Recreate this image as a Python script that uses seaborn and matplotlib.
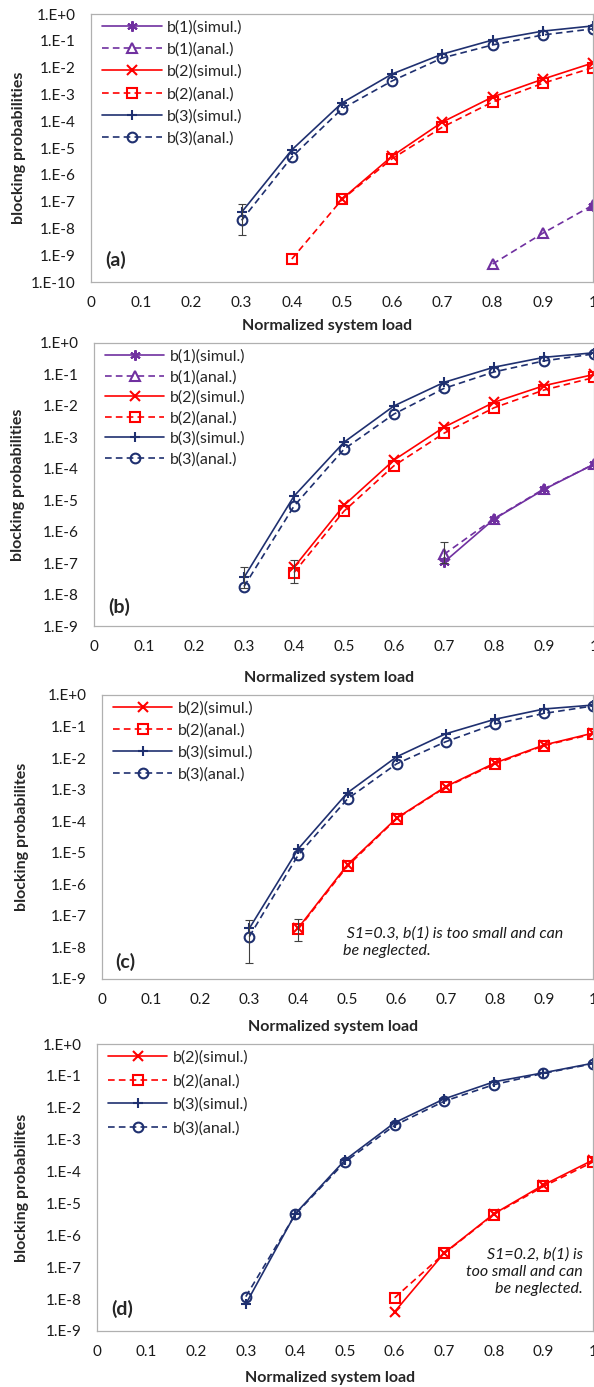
import math
import matplotlib
matplotlib.use('Agg')
import matplotlib.pyplot as plt
import matplotlib.ticker as mticker
import seaborn as sns
import pandas as pd

sns.set_style('white')
plt.rcParams['font.family'] = ['Lato', 'DejaVu Sans']

# ---- data ----
load = [0.3, 0.4, 0.5, 0.6, 0.7, 0.8, 0.9, 1.0]
xticks = [0, 0.1, 0.2, 0.3, 0.4, 0.5, 0.6, 0.7, 0.8, 0.9, 1]
xticklabels = ['0', '0.1', '0.2', '0.3', '0.4', '0.5', '0.6', '0.7', '0.8', '0.9', '1']

# panel (a)
a_b1_sim_x = [1.0]
a_b1_sim = [7.0e-8]
a_b1_ana_x = [0.8, 0.9, 1.0]
a_b1_ana = [4.7e-10, 6.6e-9, 7.4e-8]
a_b2_sim_x = [0.5, 0.6, 0.7, 0.8, 0.9, 1.0]
a_b2_sim = [1.25e-7, 5e-6, 9.3e-5, 8e-4, 3.7e-3, 1.5e-2]
a_b2_ana_x = [0.4, 0.5, 0.6, 0.7, 0.8, 0.9, 1.0]
a_b2_ana = [7.2e-10, 1.2e-7, 4e-6, 6e-5, 5.2e-4, 2.6e-3, 1.0e-2]
a_b3_sim = [4e-8, 8.5e-6, 4.8e-4, 5.8e-3, 3.2e-2, 0.107, 0.23, 0.36]
a_b3_ana = [2e-8, 4.6e-6, 2.9e-4, 3.2e-3, 2.3e-2, 0.07, 0.165, 0.28]
a_err = [(0.3, 5.6e-9, 8e-8)]

# panel (b)
b_b1_x = [0.7, 0.8, 0.9, 1.0]
b_b1_sim = [1.07e-7, 2.5e-6, 2.2e-5, 1.4e-4]
b_b1_ana = [1.9e-7, 2.6e-6, 2.3e-5, 1.4e-4]
b_b2_x = [0.4, 0.5, 0.6, 0.7, 0.8, 0.9, 1.0]
b_b2_sim = [7.4e-8, 6.9e-6, 1.9e-4, 2.1e-3, 1.3e-2, 4.4e-2, 0.1]
b_b2_ana = [5e-8, 4.5e-6, 1.25e-4, 1.35e-3, 8.7e-3, 3.2e-2, 0.08]
b_b3_sim = [3.5e-8, 1.35e-5, 7e-4, 1e-2, 5.6e-2, 0.17, 0.35, 0.49]
b_b3_ana = [1.8e-8, 6.5e-6, 4.2e-4, 5.5e-3, 3.6e-2, 0.12, 0.27, 0.45]
b_err = [(0.3, 1.6e-8, 7.4e-8), (0.4, 2.3e-8, 1.25e-7), (0.7, 1.0e-7, 4.6e-7)]

# panel (c)
c_b2_x = [0.4, 0.5, 0.6, 0.7, 0.8, 0.9, 1.0]
c_b2_sim = [4.2e-8, 4.2e-6, 1.25e-4, 1.25e-3, 7e-3, 2.6e-2, 6.2e-2]
c_b2_ana = [3.9e-8, 3.8e-6, 1.2e-4, 1.2e-3, 6.5e-3, 2.5e-2, 5.8e-2]
c_b3_sim = [4e-8, 1.35e-5, 8e-4, 1.1e-2, 5.9e-2, 0.17, 0.36, 0.48]
c_b3_ana = [2.2e-8, 8.7e-6, 5.1e-4, 6.6e-3, 3.3e-2, 0.12, 0.26, 0.45]
c_err = [(0.3, 3.3e-9, 7.6e-8), (0.4, 1.6e-8, 8e-8)]

# panel (d)
d_b2_x = [0.6, 0.7, 0.8, 0.9, 1.0]
d_b2_sim = [4e-9, 2.8e-7, 4.7e-6, 3.8e-5, 2.3e-4]
d_b2_ana = [1.1e-8, 2.7e-7, 4.5e-6, 3.4e-5, 2.0e-4]
d_b3_sim = [7e-9, 4.8e-6, 2.3e-4, 3.4e-3, 1.9e-2, 6.5e-2, 0.125, 0.25]
d_b3_ana = [1.2e-8, 4.6e-6, 2.0e-4, 2.8e-3, 1.6e-2, 5.3e-2, 0.12, 0.24]
d_err = []

PURPLE = '#7030A0'
RED = '#FF0000'
NAVY = '#1F3070'

# series style: key -> (label, color, marker, dashed)
styles = {
    'b1s': ('b(1)(simul.)', PURPLE, (6, 2, 0), False),
    'b1a': ('b(1)(anal.)', PURPLE, '^', True),
    'b2s': ('b(2)(simul.)', RED, 'x', False),
    'b2a': ('b(2)(anal.)', RED, 's', True),
    'b3s': ('b(3)(simul.)', NAVY, '+', False),
    'b3a': ('b(3)(anal.)', NAVY, 'o', True),
}

panels = [
    dict(tag='(a)', rect=(91, 14, 593, 282), ylim=(1e-10, 1), lab=(0.028, 0.082),
         ylabel='blocking probabilities', yl_x=19, xl_y=326, lspace=0.49,
         series=[('b1s', a_b1_sim_x, a_b1_sim), ('b1a', a_b1_ana_x, a_b1_ana),
                 ('b2s', a_b2_sim_x, a_b2_sim), ('b2a', a_b2_ana_x, a_b2_ana),
                 ('b3s', load, a_b3_sim), ('b3a', load, a_b3_ana)],
         err=a_err, note=None),
    dict(tag='(b)', rect=(94, 343, 594, 626), ylim=(1e-9, 1), lab=(0.028, 0.067),
         ylabel='blocking probabilities', yl_x=18, xl_y=678, lspace=0.39,
         series=[('b1s', b_b1_x, b_b1_sim), ('b1a', b_b1_x, b_b1_ana),
                 ('b2s', b_b2_x, b_b2_sim), ('b2a', b_b2_x, b_b2_ana),
                 ('b3s', load, b_b3_sim), ('b3a', load, b_b3_ana)],
         err=b_err, note=None),
    dict(tag='(c)', rect=(102, 695, 593, 979), ylim=(1e-9, 1), lab=(0.028, 0.06),
         ylabel='blocking probabilites', yl_x=22, xl_y=1027, lspace=0.47,
         series=[('b2s', c_b2_x, c_b2_sim), ('b2a', c_b2_x, c_b2_ana),
                 ('b3s', load, c_b3_sim), ('b3a', load, c_b3_ana)],
         err=c_err,
         note=(0.49, 0.13, ' S1=0.3, b(1) is too small and can\nbe neglected.', 'left')),
    dict(tag='(d)', rect=(97, 1044, 593, 1331), ylim=(1e-9, 1), lab=(0.028, 0.077),
         ylabel='blocking probabilites', yl_x=22, xl_y=1378, lspace=0.58,
         series=[('b2s', d_b2_x, d_b2_sim), ('b2a', d_b2_x, d_b2_ana),
                 ('b3s', load, d_b3_sim), ('b3a', load, d_b3_ana)],
         err=d_err,
         note=(0.98, 0.206, 'S1=0.2, b(1) is\ntoo small and can\nbe neglected.', 'right')),
]

W, H = 594, 1387
fig = plt.figure(figsize=(W / 100, H / 100), dpi=100)

for p in panels:
    l, t, r, b = p['rect']
    ax = fig.add_axes([l / W, 1 - b / H, (r - l) / W, (b - t) / H])
    for key, xs, ys in p['series']:
        lbl, col, mk, dashed = styles[key]
        df = pd.DataFrame({'x': xs, 'y': ys})
        open_mk = key.endswith('a')
        sns.lineplot(data=df, x='x', y='y', ax=ax, color=col, marker=mk,
                     markersize=7.5 if not open_mk else 7,
                     markeredgecolor=col, markeredgewidth=1.5,
                     markerfacecolor='none' if open_mk else col,
                     linestyle=(0, (4, 2.5)) if dashed else '-',
                     linewidth=1.2, label=lbl, legend=False)
    for x0, lo, hi in p['err']:
        mid = (lo * hi) ** 0.5
        ax.errorbar([x0], [mid], yerr=[[mid - lo], [hi - mid]], fmt='none',
                    ecolor='#404040', elinewidth=0.8, capsize=3, capthick=0.8)

    ax.set_yscale('log')
    ax.set_ylim(*p['ylim'])
    ax.set_xlim(0, 1)
    lo_e = int(round(math.log10(p['ylim'][0])))
    decs = list(range(lo_e, 1))
    ax.yaxis.set_major_locator(mticker.FixedLocator([10.0 ** e for e in decs]))
    ax.yaxis.set_major_formatter(mticker.FixedFormatter([f'1.E{e:+d}' for e in decs]))
    ax.yaxis.set_minor_locator(mticker.NullLocator())
    ax.set_xticks(xticks)
    ax.set_xticklabels(xticklabels)
    ax.tick_params(axis='both', length=0, labelsize=11, colors='#1a1a1a')
    ax.tick_params(axis='y', pad=11)
    ax.tick_params(axis='x', pad=10)
    for s in ax.spines.values():
        s.set_color('#b0b0b0')
        s.set_linewidth(0.9)

    ax.set_xlabel('Normalized system load', fontsize=11.5, fontweight='bold')
    ax.set_ylabel(p['ylabel'], fontsize=11.5, fontweight='bold')
    ax.xaxis.set_label_coords(0.47, -(p['xl_y'] - b) / (b - t), transform=ax.transAxes)
    ax.xaxis.label.set_va('center')
    ax.yaxis.set_label_coords(-(l - p['yl_x']) / (r - l), 0.5, transform=ax.transAxes)
    ax.yaxis.label.set_va('center')

    ax.legend(loc='upper left', frameon=False, fontsize=11.5, handlelength=3.7,
              handletextpad=0.35, labelspacing=p['lspace'], borderaxespad=0.0,
              bbox_to_anchor=(0.01, 1.0))

    ax.text(p['lab'][0], p['lab'][1], p['tag'], transform=ax.transAxes,
            fontsize=14, fontweight='bold', ha='left', va='center')
    if p['note'] is not None:
        nx, ny, txt, ha = p['note']
        ax.text(nx, ny, txt, transform=ax.transAxes, fontsize=11.5, style='italic',
                ha=ha, va='center', linespacing=1.3, color='#1a1a1a')

fig.savefig('out.png', dpi=100)
